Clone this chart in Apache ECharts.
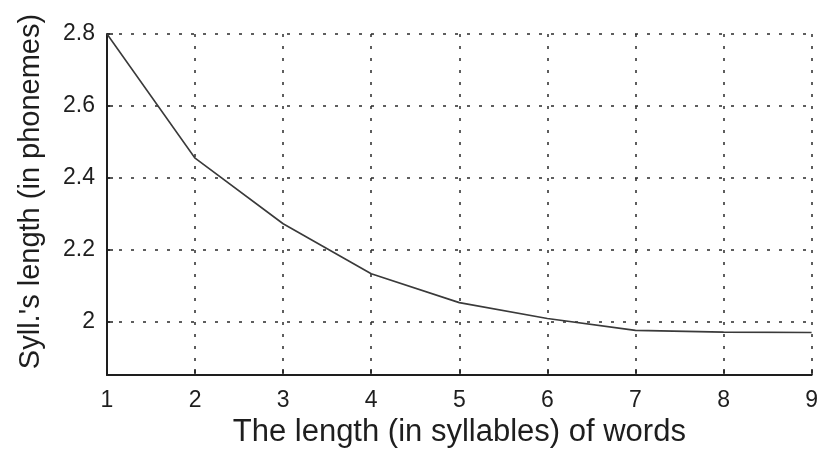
<!DOCTYPE html>
<html>
<head>
<meta charset="utf-8">
<script src="https://cdn.jsdelivr.net/npm/echarts@6/dist/echarts.min.js"></script>
<style>
  html, body { margin: 0; padding: 0; background: #fff; }
  #chart { width: 821px; height: 453px; }
</style>
</head>
<body>
<div id="chart"></div>
<script>
// Word length in syllables vs. mean syllable length in phonemes
const wordLengths = [1, 2, 3, 4, 5, 6, 7, 8, 9];
const syllableLengths = [2.8, 2.455, 2.273, 2.134, 2.054, 2.010, 1.977, 1.972, 1.971];
const yTicks = [2.0, 2.2, 2.4, 2.6, 2.8];
const xTicks = [1, 2, 3, 4, 5, 6, 7, 8, 9];

const font = 'Liberation Sans, Arial, sans-serif';
const ink = '#1e1e1e';
const gridDots = { color: '#2a2a2a', width: 1.5, type: [3, 9] };
const chart = echarts.init(document.getElementById('chart'));

chart.setOption({
  animation: false,
  backgroundColor: '#fff',
  grid: { left: 107, right: 9, top: 34, bottom: 78, containLabel: false },
  xAxis: {
    type: 'value',
    min: 1, max: 9, interval: 1,
    name: 'The length (in syllables) of words',
    nameLocation: 'middle',
    nameGap: 35,
    nameTextStyle: { fontFamily: font, fontSize: 31, color: ink },
    axisLine: { show: true, onZero: false, lineStyle: { color: ink, width: 2 } },
    axisTick: { show: true, inside: true, length: 6, customValues: xTicks, lineStyle: { color: ink, width: 1.5 } },
    axisLabel: { fontFamily: font, fontSize: 23, color: ink, margin: 14, customValues: xTicks },
    splitLine: { show: true, lineStyle: gridDots }
  },
  yAxis: {
    type: 'value',
    min: 1.853, max: 2.8,
    name: "Syll.'s length (in phonemes)",
    nameLocation: 'middle',
    nameGap: 62,
    nameTextStyle: { fontFamily: font, fontSize: 29, color: ink, padding: [0, 0, 0, 26] },
    axisLine: { show: true, lineStyle: { color: ink, width: 2 } },
    axisTick: { show: true, inside: true, length: 6, customValues: yTicks, lineStyle: { color: ink, width: 1.5 } },
    axisLabel: {
      fontFamily: font, fontSize: 23, color: ink, margin: 12,
      customValues: yTicks,
      formatter: v => (Math.abs(v - 2) < 1e-9 ? '2' : v.toFixed(1))
    },
    splitLine: { show: true, lineStyle: gridDots }
  },
  series: [{
    type: 'line',
    data: wordLengths.map((x, i) => [x, syllableLengths[i]]),
    showSymbol: false,
    lineStyle: { color: '#3a3a3a', width: 1.6 },
    z: 5
  }]
});
</script>
</body>
</html>
